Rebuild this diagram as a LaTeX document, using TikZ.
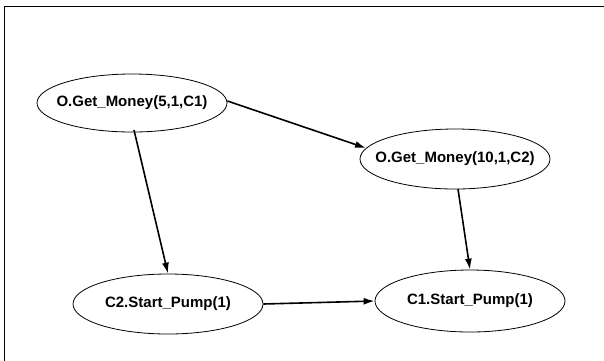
\documentclass[tikz,border=0pt]{standalone}
\usepackage{fontspec}
\setmainfont{Liberation Sans}
\usetikzlibrary{shapes.geometric,arrows.meta}
\begin{document}
\begin{tikzpicture}[x=1pt,y=-1pt,
  ev/.style={draw,ellipse,line width=0.8pt,minimum width=190pt,minimum height=58pt,inner xsep=-14pt,inner ysep=0pt,font=\fontsize{15}{17}\selectfont\bfseries},
  conn/.style={line width=1.6pt,-{Latex[length=11pt,width=7pt]}}]
\useasboundingbox (0,0) rectangle (604,360);
\draw[line width=1pt] (4,380) -- (4,6) -- (620,6);
\node[ev] (a) at (132,103) {O.Get\_Money(5,1,C1)};
\node[ev,minimum height=60pt] (b) at (455,159) {O.Get\_Money(10,1,C2)};
\node[ev,minimum height=60pt] (c) at (168,304) {C2.Start\_Pump(1)};
\node[ev,minimum height=62pt] (d) at (470,301) {C1.Start\_Pump(1)};
\draw[conn] (134,130) -- (c.north);
\draw[conn] (a.east) ++(0,-2) -- (b.173);
\draw[conn] (458,189) -- (d.north);
\draw[conn] (c.east) -- (d.west);
\end{tikzpicture}
\end{document}
